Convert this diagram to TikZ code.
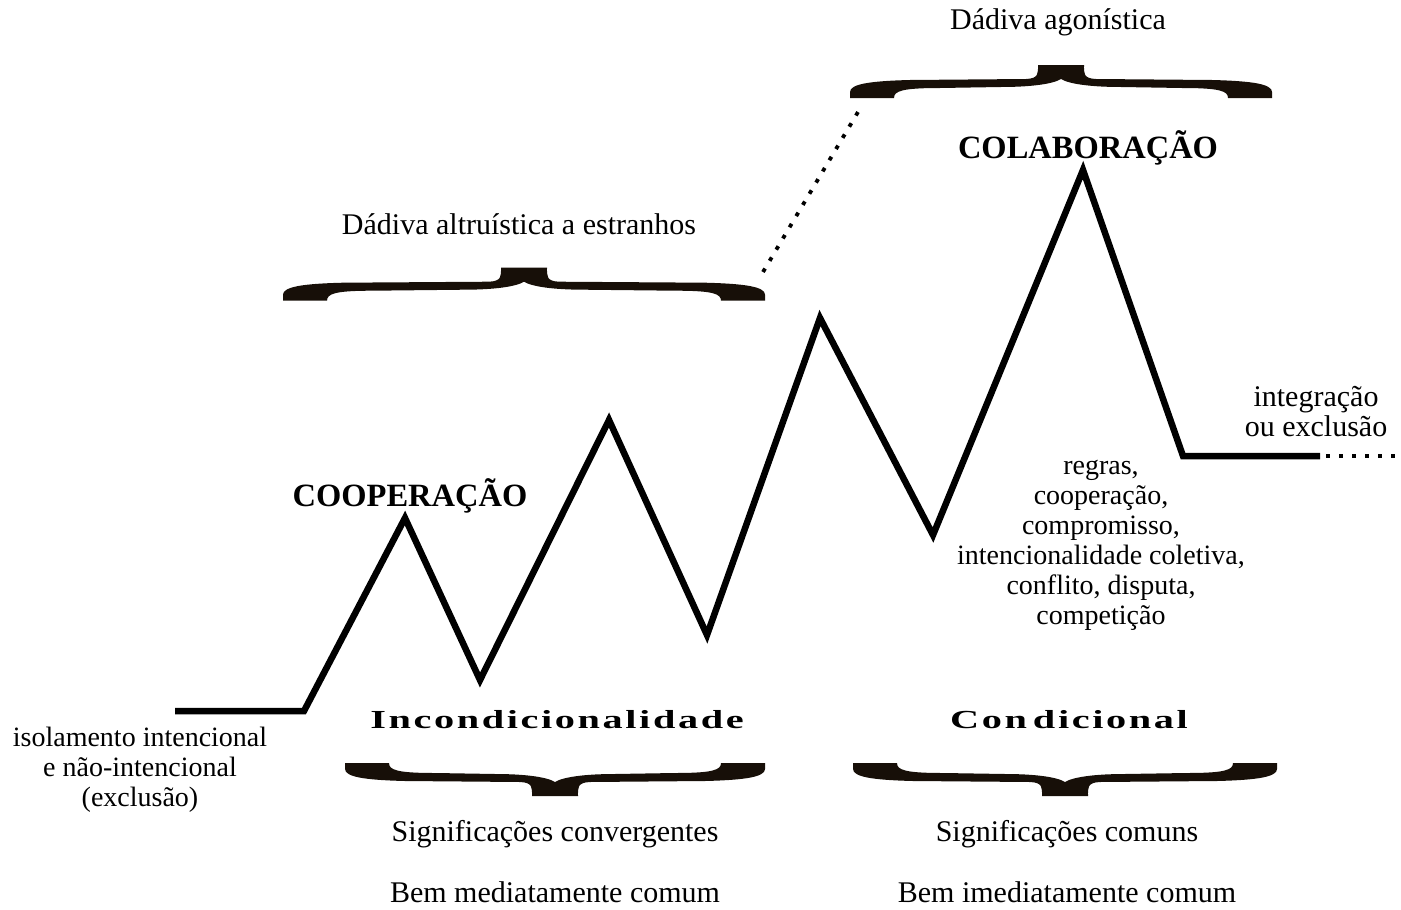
\documentclass[tikz,border=0pt]{standalone}
\usepackage{fontspec}
\setmainfont{Liberation Serif}
\newfontfamily\spacedfont[LetterSpace=10,FakeStretch=1.55]{Liberation Serif}
\begin{document}
\begin{tikzpicture}[x=1pt,y=-1pt,
  txt/.style={font=\fontsize{30}{30}\selectfont, align=center, inner sep=0pt},
  txts/.style={font=\fontsize{28}{30}\selectfont, align=center, inner sep=0pt},
  big/.style={font=\fontsize{32.5}{36}\selectfont\bfseries, inner sep=0pt},
  spaced/.style={font=\fontsize{26}{28}\selectfont\spacedfont\bfseries, inner sep=0pt},
  zig/.style={line width=6.5pt, line join=miter, miter limit=20},
  dots/.style={line width=3.8pt, dash pattern=on 4pt off 9pt},
  bracefill/.style={fill=black!88!brown, draw=none}]
\useasboundingbox (0,0) rectangle (1401,910);
% brace macro: #1 left x, #2 width, #3 base y, #4 yscale (-1 tip up, 1 tip down)
\newcommand{\BigBrace}[4]{%
  \begin{scope}[shift={(#1,#3)}, yscale=#4]
  \pgfmathsetmacro{\W}{#2}\pgfmathsetmacro{\h}{#2/2}
  \fill[bracefill] (0,0) -- (0,6) .. controls (0,14) and (20,17) .. (60,18)
    -- ({\h-35},19) .. controls ({\h-22},19.5) and ({\h-23},25) .. ({\h-23},33)
    -- ({\h+23},33) .. controls ({\h+23},25) and ({\h+22},19.5) .. ({\h+35},19)
    -- ({\W-60},18) .. controls ({\W-20},17) and (\W,14) .. (\W,6) -- (\W,0)
    -- ({\W-44},0) .. controls ({\W-44},7) and ({\W-52},10) .. ({\W-90},10)
    -- ({\h+60},11) .. controls ({\h+30},11) and ({\h+8},14) .. (\h,19)
    .. controls ({\h-8},14) and ({\h-30},11) .. ({\h-60},11)
    -- (90,10) .. controls (52,10) and (44,7) .. (44,0) -- cycle;
  \end{scope}}
% zigzag
\coordinate (p0) at (175,711);
\coordinate (p1) at (304,711);
\coordinate (p2) at (405,518);
\coordinate (p3) at (480,680);
\coordinate (p4) at (609,420);
\coordinate (p5) at (707,635);
\coordinate (p6) at (820,318);
\coordinate (p7) at (933,535);
\coordinate (p8) at (1083,170);
\coordinate (p9) at (1183,456);
\coordinate (p10) at (1320,456);
\coordinate (p11) at (1401,456);
\draw[zig] (p0) -- (p1) -- (p2) -- (p3) -- (p4) -- (p5) -- (p6) -- (p7) -- (p8) -- (p9) -- (p10);
\draw[dots] (1326,456) -- (p11);
\coordinate (d1) at (763,272);
\coordinate (d2) at (858,112);
\draw[dots] (d1) -- (d2);
% braces
\BigBrace{283}{482}{300.7}{-1}
\BigBrace{850}{422}{98}{-1}
\BigBrace{345}{420}{763}{1}
\BigBrace{853}{424}{763}{1}
% texts
\node[txt] (t1) at (1058,22) {Dádiva agonística};
\node[txt] (t2) at (519,224) {Dádiva altruística a estranhos};
\node[big] (t3) at (1088,148) {COLABORAÇÃO};
\node[big] (t4) at (410,496) {COOPERAÇÃO};
\node[txt] (t5) at (1316,412) {integração\\ou exclusão};
\node[txts] (t6) at (1101,545) {regras,\\cooperação,\\compromisso,\\intencionalidade coletiva,\\conflito, disputa,\\competição};
\node[spaced] (t7) at (557,720) {Incondicionalidade};
\node[spaced] (t8) at (1069,720) {Con\hspace{6pt}dicional};
\node[txts] (t9) at (140,770) {isolamento intencional\\e não-intencional\\(exclusão)};
\node[txt] (t10) at (555,834) {Significações convergentes};
\node[txt] (t11) at (555,892) {Bem mediatamente comum};
\node[txt] (t12) at (1067,834) {Significações comuns};
\node[txt] (t13) at (1067,892) {Bem imediatamente comum};
\end{tikzpicture}
\end{document}
